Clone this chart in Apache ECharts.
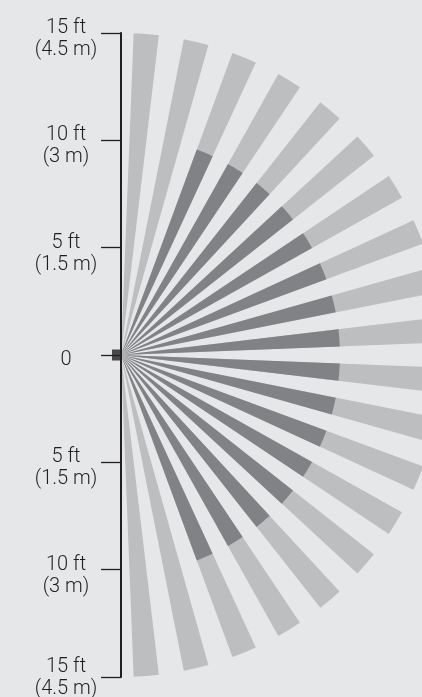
<!DOCTYPE html>
<html>
<head>
<meta charset="utf-8">
<title>Coverage pattern</title>
<script src="https://cdn.jsdelivr.net/npm/echarts@6/dist/echarts.min.js"></script>
<style>
  html, body {
    margin: 0;
    padding: 0;
    background-color: #e6e7e8;
  }
  #chart {
    width: 422px;
    height: 697px;
  }
</style>
</head>
<body>
<div id="chart"></div>
<script>
// 20 detection zones, read clockwise from the top of the axis to the bottom
const zones = [
  "z1", "z2", "z3", "z4", "z5", "z6", "z7", "z8", "z9", "z10",
  "z11", "z12", "z13", "z14", "z15", "z16", "z17", "z18", "z19", "z20"
];
// full reach of every zone (ft)
const outerReach = [15, 15, 15, 15, 15, 15, 15, 15, 15, 15, 15, 15, 15, 15, 15, 15, 15, 15, 15, 15];
// darker inner part of the zone (ft), the two zones next to the wall have none
const innerReach = [0, 0, 10.2, 10.2, 10.2, 10.2, 10.2, 10.2, 10.2, 10.2, 10.2, 10.2, 10.2, 10.2, 10.2, 10.2, 10.2, 10.2, 0, 0];

// distance scale on the wall
const tickValues = [-15, -10, -5, 0, 5, 10, 15];
const tickLabels = [
  "15 ft\n(4.5 m)", "10 ft\n(3 m)", "5 ft\n(1.5 m)", "0",
  "5 ft\n(1.5 m)", "10 ft\n(3 m)", "15 ft\n(4.5 m)"
];
// the sensor sits at the origin
const sensorPoint = [[0, 0]];

const ink = "#231f20";

let myChart = echarts.init(document.getElementById("chart"));
let option = {
  backgroundColor: "#e6e7e8",
  animation: false,
  grid: {
    left: 121,
    right: 0,
    top: 33,
    bottom: 20,
    outerBoundsMode: "none"
  },
  xAxis: {
    type: "value",
    min: 0,
    max: 15,
    show: false
  },
  yAxis: {
    type: "value",
    min: -15,
    max: 15,
    interval: 5,
    z: 10,
    axisLine: {
      show: true,
      lineStyle: { color: ink, width: 2 }
    },
    axisTick: {
      show: true,
      length: 20,
      lineStyle: { color: ink, width: 1.3 }
    },
    splitLine: { show: false },
    axisLabel: {
      margin: 55,
      align: "center",
      color: ink,
      fontFamily: "Roboto",
      fontWeight: 300,
      fontSize: 20,
      lineHeight: 22,
      // a small empty line on top pushes the label a bit under the tick
      // (the last one at the bottom edge sits a little higher)
      formatter: function (v) {
        let lines = tickLabels[tickValues.indexOf(v)].split("\n");
        let gap = "{s2| }";
        if (lines.length === 1) gap = "{s1| }";
        if (v === -15) gap = "{s0| }";
        return gap + "\n" + lines.map(function (l) { return "{t|" + l + "}"; }).join("\n");
      },
      rich: {
        s0: { fontSize: 1, lineHeight: 1 },
        s1: { fontSize: 1, lineHeight: 9 },
        s2: { fontSize: 1, lineHeight: 12 },
        t: {
          color: ink,
          fontFamily: "Roboto",
          fontWeight: 300,
          fontSize: 20,
          lineHeight: 22
        }
      }
    }
  },
  polar: {
    center: [121, 355],
    radius: 322
  },
  angleAxis: {
    type: "category",
    data: zones,
    startAngle: 90,
    endAngle: -90,
    clockwise: true,
    show: false
  },
  radiusAxis: {
    type: "value",
    min: 0,
    max: 15,
    show: false
  },
  series: [
    {
      name: "outer",
      type: "bar",
      coordinateSystem: "polar",
      data: outerReach,
      barWidth: "50%",
      barGap: "-100%",
      itemStyle: { color: "#bcbec0" },
      silent: true
    },
    {
      name: "inner",
      type: "bar",
      coordinateSystem: "polar",
      data: innerReach,
      barWidth: "50%",
      barGap: "-100%",
      itemStyle: { color: "#808285" },
      silent: true
    },
    {
      name: "sensor",
      type: "scatter",
      data: sensorPoint,
      clip: false,
      symbol: "rect",
      symbolSize: [9, 11],
      symbolOffset: [-4.5, 0],
      itemStyle: { color: ink },
      z: 11,
      silent: true
    }
  ]
};
myChart.setOption(option);
</script>
</body>
</html>
